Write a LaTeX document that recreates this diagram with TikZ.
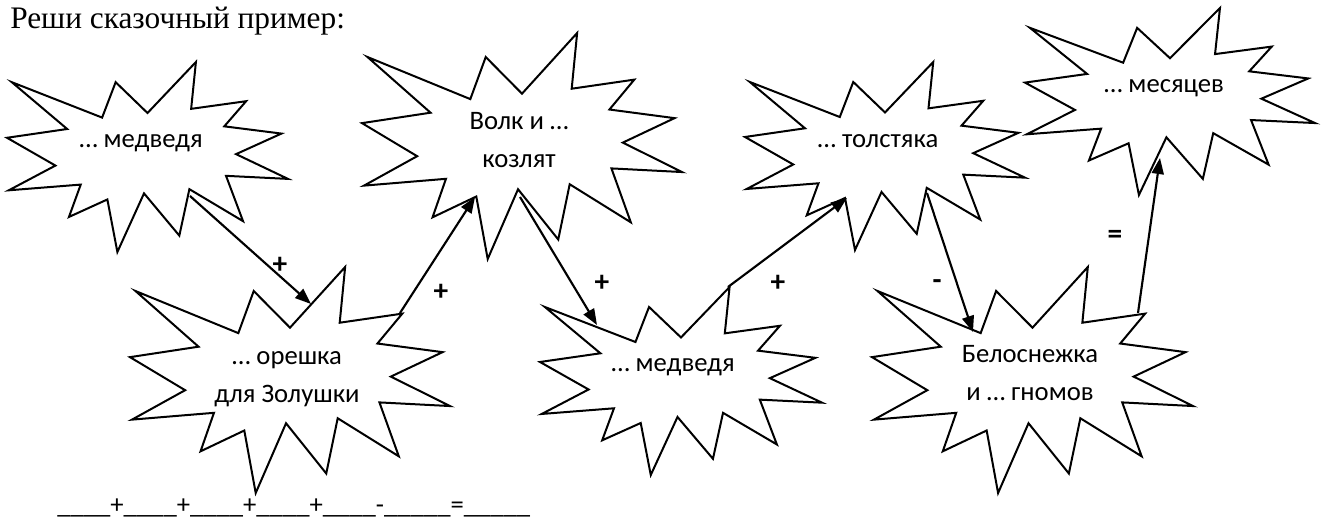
\documentclass[tikz,border=0pt]{standalone}
\usepackage{fontspec}
\setmainfont{Carlito}
\newfontfamily\titlefont{Liberation Serif}
\usetikzlibrary{arrows.meta}

\tikzset{
  seal/.style={draw=black, fill=white, line width=1.5pt},
  caption/.style={font=\fontsize{20}{29}\selectfont, inner sep=0pt, anchor=base, align=center},
  link/.style={line width=1.6pt, -{Triangle[length=12pt,width=9pt]}},
  sign/.style={font=\bfseries\fontsize{22}{26}\selectfont, inner sep=0pt}
}

% explosion outline in a 216 x 216 box, placed at (x0,y0) with size w x h
\newcommand\burst[4]{%
  \begin{scope}[shift={(#1,#2)}, xscale=#3/216, yscale=#4/216]
    \path[seal] (108,58) -- (145.22,0) -- (141.55,53.25) -- (183.80,44.57)
      -- (167.02,73.15) -- (210.97,81.37) -- (176.07,104.75) -- (216,132.90)
      -- (168.37,129.42) -- (181.45,180.95) -- (140.20,144.57) -- (132.47,197.37)
      -- (105.32,149.35) -- (84.85,216) -- (77.15,156.27) -- (47.62,176.17)
      -- (56.67,139.37) -- (1.35,145.87) -- (37.22,117.75) -- (0,86.15)
      -- (46.27,76.17) -- (3.70,22.95) -- (73.12,63.20) -- (83.52,22.95) -- cycle;
  \end{scope}}

\begin{document}
\begin{tikzpicture}[x=0.75pt, y=-0.75pt]
\useasboundingbox (0,0) rectangle (1322,520);

% heading
\node[font=\titlefont\fontsize{23.5}{28}\selectfont, inner sep=0pt, anchor=base west]
  (title) at (10,29) {Реши сказочный пример:};

% explosions
\burst{7}{62}{281}{190}
\burst{362}{33}{320}{226}
\burst{130}{267}{320}{226}
\burst{540}{287}{282}{188}
\burst{745}{62}{280}{188}
\burst{872}{267}{321}{226}
\burst{1025}{8}{290}{187}

% captions (base = baseline of the last line)
\node[caption] (bear1)  at (141,148)  {… медведя};
\node[caption] (wolf)   at (519,168)  {Волк и …\\козлят};
\node[caption] (nut)    at (287,403)  {… орешка\\для Золушки};
\node[caption] (bear2)  at (673,372)  {… медведя};
\node[caption] (fat)    at (878,148)  {… толстяка};
\node[caption] (snow)   at (1030,401) {Белоснежка\\и … гномов};
\node[caption] (months) at (1164,93)  {… месяцев};

% connector ends on the outlines
\coordinate (bear1out)  at (190,196);
\coordinate (nutin)     at (311,304);
\coordinate (nutout)    at (400,313);
\coordinate (wolfin)    at (475,197);
\coordinate (wolfout)   at (520,197);
\coordinate (bear2in)   at (597,325);
\coordinate (bear2out)  at (728,287);
\coordinate (fatin)     at (847,198);
\coordinate (fatout)    at (927,193);
\coordinate (snowin)    at (973,332);
\coordinate (snowout)   at (1138,313);
\coordinate (monthsin)  at (1160,158);

\draw[link] (bear1out) -- (nutin);
\draw[link] (nutout) -- (wolfin);
\draw[link] (wolfout) -- (bear2in);
\draw[link] (bear2out) -- (fatin);
\draw[link] (fatout) -- (snowin);
\draw[link] (snowout) -- (monthsin);

% operation signs
\node[sign] (op1) at (280,265)  {+};
\node[sign] (op2) at (441,292)  {+};
\node[sign] (op3) at (602,283)  {+};
\node[sign] (op4) at (778,283)  {+};
\node[sign] (op5) at (937,285)  {-};
\node[sign] (op6) at (1115,237) {=};

% answer line
\node[font=\fontsize{20}{24}\selectfont, inner sep=0pt, anchor=base west]
  (answer) at (57,513) {\_\_\_\_+\_\_\_\_+\_\_\_\_+\_\_\_\_+\_\_\_\_-\_\_\_\_\_=\_\_\_\_\_};
\end{tikzpicture}
\end{document}
